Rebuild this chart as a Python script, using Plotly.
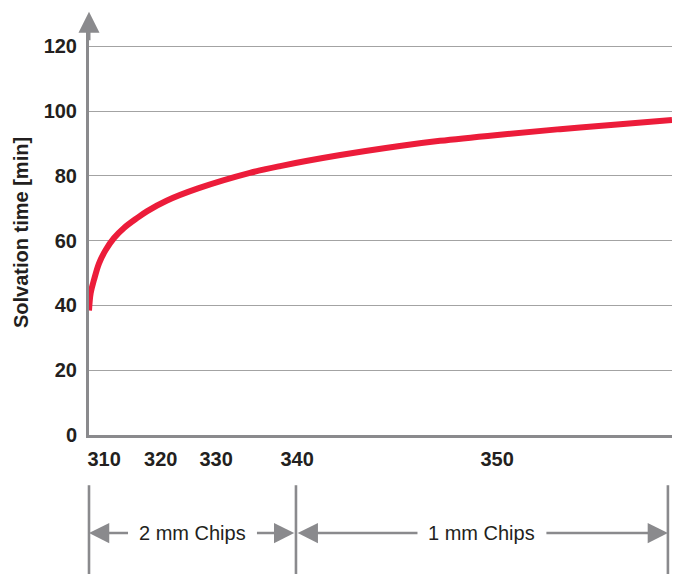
import plotly.graph_objects as go

# ---- data (x in relative axis position units 0..100) ----
x_pos = [0, 0.29, 0.86, 1.72, 2.86, 4.29, 6.0, 8.28, 10.0, 13.3, 18.7, 27.6, 32.8,
         43.1, 53.3, 60.2, 70.5, 80.8, 91.1, 100]
solv_time = [38.4, 43.8, 47.9, 53.0, 57.1, 60.8, 63.9, 67.0, 69.1, 72.3, 76.1, 80.9, 83.0,
             86.4, 89.2, 90.8, 92.7, 94.4, 95.9, 97.2]

x_tick_pos = [2.6, 12.3, 21.8, 35.7, 70.0]
x_tick_text = ["310", "320", "330", "340", "350"]

y_tick_vals = [0, 20, 40, 60, 80, 100, 120]

bracket_edges = [0, 35.5, 99.3]
bracket_labels = ["2 mm Chips", "1 mm Chips"]

# ---- styles ----
RED = "#EC1C3A"
GRAY = "#8a8a8d"
GRID = "#a3a3a3"
TXT = "#231f20"
FONT = "Liberation Sans, Arial, sans-serif"

X_MIN, X_MAX = 0, 100
Y_MIN, Y_MAX = 0, 125

fig = go.Figure()
fig.add_trace(go.Scatter(
    x=x_pos, y=solv_time, mode="lines",
    line=dict(color=RED, width=6, shape="spline", smoothing=1.0),
    hoverinfo="skip", showlegend=False,
))

def xp(v):
    return (v - X_MIN) / (X_MAX - X_MIN)

shapes = []
annotations = []

# bracket vertical lines
for e in bracket_edges:
    shapes.append(dict(type="line", xref="paper", yref="paper",
                       x0=xp(e), x1=xp(e), y0=-0.124, y1=-0.345,
                       line=dict(color=GRAY, width=2.6)))

arrow_y = -0.242
half_gap = 10.8  # text half width + gap (in x units)
for i, lab in enumerate(bracket_labels):
    a, b = bracket_edges[i], bracket_edges[i + 1]
    c = (a + b) / 2
    annotations.append(dict(x=c, y=arrow_y, xref="x", yref="paper", text=lab,
                            showarrow=False, font=dict(family=FONT, size=20, color=TXT),
                            xanchor="center", yanchor="middle"))
    left_tip = a + (0.3 if i > 0 else 0)
    right_tip = b - (0.3 if i == 0 else 0)
    for tip, tail in ((left_tip, c - half_gap), (right_tip, c + half_gap)):
        annotations.append(dict(x=tip, y=arrow_y, xref="x", yref="paper",
                                ax=tail, ay=0, axref="x", ayref="pixel",
                                text="", showarrow=True, arrowhead=2,
                                arrowsize=1.5, arrowwidth=2.7, arrowcolor=GRAY,
                                standoff=0, startstandoff=0))

# y axis arrow
annotations.append(dict(x=0, y=1.045, xref="paper", yref="paper",
                        ax=0, ay=30, axref="pixel", ayref="pixel",
                        text="", showarrow=True, arrowhead=2,
                        arrowsize=1.4, arrowwidth=3, arrowcolor=GRAY,
                        standoff=0))

fig.update_layout(
    width=673, height=574,
    margin=dict(l=89, r=1, t=30, b=139),
    paper_bgcolor="white", plot_bgcolor="white",
    font=dict(family=FONT, color=TXT),
    shapes=shapes, annotations=annotations,
    xaxis=dict(range=[X_MIN, X_MAX], tickvals=x_tick_pos, ticktext=x_tick_text,
               showgrid=False, zeroline=False, showline=True, linecolor=GRAY, linewidth=3,
               ticks="", ticklabelstandoff=4,
               tickfont=dict(family=FONT, size=20, color=TXT, weight="bold")),
    yaxis=dict(range=[Y_MIN, Y_MAX], tickvals=y_tick_vals,
               showgrid=True, gridcolor=GRID, gridwidth=1.3, zeroline=False,
               showline=True, linecolor=GRAY, linewidth=3,
               ticks="", ticklabelstandoff=5,
               tickfont=dict(family=FONT, size=20, color=TXT, weight="bold"),
               title=dict(text="Solvation time [min]", standoff=10,
                          font=dict(family=FONT, size=20, color=TXT, weight="bold"))),
)

fig.write_html("out.html", post_script="document.body.style.margin='0';",
               config={"displayModeBar": False})
